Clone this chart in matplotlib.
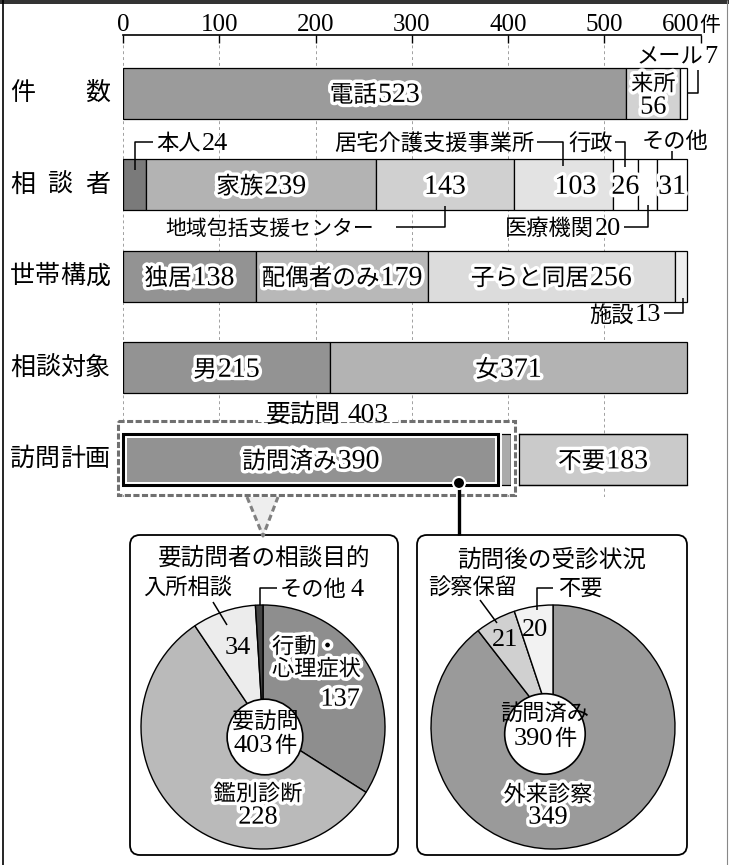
import matplotlib
matplotlib.use("Agg")
import matplotlib.pyplot as plt
import matplotlib.patheffects as pe
from matplotlib.patches import Rectangle, FancyBboxPatch, Circle, Polygon
import numpy as np

plt.rcParams['font.family'] = ['Noto Sans CJK JP', 'DejaVu Sans']
JP = ['Noto Sans CJK JP', 'DejaVu Sans']
SERIF = ['Liberation Serif', 'DejaVu Serif']

# ---- data ----
rows = ["件数", "相談者", "世帯構成", "相談対象", "訪問計画"]
ticks = [0, 100, 200, 300, 400, 500, 600]

ken_names = ["電話", "来所", "メール"]
ken_vals = [523, 56, 7]

sodan_names = ["本人", "家族", "地域包括支援センター", "居宅介護支援事業所", "行政", "医療機関", "その他"]
sodan_vals = [24, 239, 143, 103, 26, 20, 31]

setai_names = ["独居", "配偶者のみ", "子らと同居", "施設"]
setai_vals = [138, 179, 256, 13]

taisho_names = ["男", "女"]
taisho_vals = [215, 371]

homon_names = ["訪問済み", "", "不要"]
homon_vals = [390, 13, 183]
yohomon_total = 403

mokuteki_names = ["行動・心理症状", "鑑別診断", "入所相談", "その他"]
mokuteki_vals = [137, 228, 34, 4]

jushin_names = ["外来診察", "診察保留", "不要"]
jushin_vals = [349, 21, 20]

# ---- colours ----
ken_cols = ['#9b9b9b', '#d2d2d2', '#ffffff']
sodan_cols = ['#7a7a7a', '#b3b3b3', '#d0d0d0', '#e3e3e3', '#ffffff', '#ffffff', '#ffffff']
setai_cols = ['#939393', '#b8b8b8', '#dcdcdc', '#eeeeee']
taisho_cols = ['#939393', '#b3b3b3']
homon_cols = ['#929292', '#ababab', '#cacaca']
mokuteki_cols = ['#8e8e8e', '#bababa', '#ececec', '#444444']
jushin_cols = ['#9a9a9a', '#d0d0d0', '#f2f2f2']

halo = [pe.withStroke(linewidth=5, foreground='white')]

# ---- layout (pixels) ----
W, H = 729, 865
X0, X1 = 123, 700.5
K = (X1 - X0) / 600
YT, YB = 35, 497
Y0, DY = 93, 91.6
BH = 51


def xp(v):
    return X0 + v * K


def yp(i):
    return Y0 + i * DY


fig = plt.figure(figsize=(W / 100, H / 100), dpi=100)

ax = fig.add_axes([X0 / W, 1 - YB / H, (X1 - X0) / W, (YB - YT) / H])
ax.set_xlim(0, 600)
ax.set_ylim((YB - Y0) / DY, (YT - Y0) / DY)
ax.set_xticks(ticks)
ax.set_yticks([])
for s in ['left', 'right', 'bottom']:
    ax.spines[s].set_visible(False)
ax.spines['top'].set_linewidth(1.2)
ax.tick_params(axis='x', top=True, bottom=False, direction='in', length=6,
               width=1, labeltop=False, labelbottom=False)
ax.grid(axis='x', color='#a0a0a0', lw=0.7, ls=(0, (3, 3)))
ax.set_axisbelow(True)
ax.patch.set_alpha(0)

dx = lambda p: (p - X0) / K
dy = lambda p: (p - Y0) / DY

series = [(ken_vals, ken_cols), (sodan_vals, sodan_cols), (setai_vals, setai_cols),
          (taisho_vals, taisho_cols), (homon_vals, homon_cols)]
lefts_all = []
for i, (vals, cols) in enumerate(series):
    lefts = np.concatenate([[0], np.cumsum(vals)[:-1]])
    lefts_all.append(lefts)
    bars = ax.barh(i, vals, left=lefts, height=BH / DY, color=cols,
                   edgecolor='black', linewidth=0.9, zorder=2)
    if i == 4:
        # 訪問済み gets a heavy frame with a white inner gap
        bars[0].set_edgecolor('white')
        bars[0].set_linewidth(5)
        bars[0].set_zorder(2.5)
        ax.add_patch(Rectangle((0, i - BH / DY / 2), vals[0], BH / DY, fc='none',
                               ec='black', lw=2.2, zorder=3, clip_on=False))
        # small white gap before the 不要 block, as drawn in the original
        x_gap = lefts[2]
        ax.add_patch(Rectangle((x_gap, i - BH / DY / 2 - 0.02), dx(519) - x_gap, BH / DY + 0.04,
                               fc='white', ec='none', zorder=2.2))
        ax.plot([dx(519), dx(519)], [i - BH / DY / 2, i + BH / DY / 2], color='black',
                lw=0.9, zorder=2.3)
        ax.plot([dx(519), x_gap + vals[2]], [i - BH / DY / 2] * 2, color='black', lw=0.9, zorder=2.3)
        ax.plot([dx(519), x_gap + vals[2]], [i + BH / DY / 2] * 2, color='black', lw=0.9, zorder=2.3)


def centre(i, k):
    return lefts_all[i][k] + series[i][0][k] / 2


# white face behind the 要訪問 box
ax.add_patch(Rectangle((dx(118), dy(421)), dx(515) - dx(118), dy(495) - dy(421),
                       fc='white', ec='none', zorder=1.5, clip_on=False))


# pies
def pie_axes(cx, cy, r):
    return fig.add_axes([(cx - r) / W, 1 - (cy + r) / H, 2 * r / W, 2 * r / H])


pa = pie_axes(263, 727, 122)
wedges, _ = pa.pie(mokuteki_vals, colors=mokuteki_cols, startangle=90, counterclock=False,
                   wedgeprops=dict(edgecolor='black', linewidth=1.0))
for w in wedges:
    w.set_clip_on(False)
pa.set_xlim(-1, 1)
pa.set_ylim(-1, 1)
pa.add_patch(Circle((0.016, -0.082), 0.31, fc='white', ec='black', lw=1.2, zorder=5))

pb = pie_axes(553, 727, 122)
wedges, _ = pb.pie(jushin_vals, colors=jushin_cols, startangle=90, counterclock=False,
                   wedgeprops=dict(edgecolor='black', linewidth=1.0))
for w in wedges:
    w.set_clip_on(False)
pb.set_xlim(-1, 1)
pb.set_ylim(-1, 1)
pb.add_patch(Circle((-0.066, -0.057), 0.33, fc='white', ec='black', lw=1.2, zorder=5))

# overlay in pixel coordinates
ov = fig.add_axes([0, 0, 1, 1])
ov.set_xlim(0, W)
ov.set_ylim(H, 0)
ov.axis('off')
renderer = fig.canvas.get_renderer()


def line(xs, ys, **kw):
    kw.setdefault('color', 'black')
    kw.setdefault('lw', 1.1)
    ov.plot(xs, ys, solid_capstyle='butt', **kw)


def lab(x, y, name="", num="", unit="", fs=16, ha='center', glow=False, gap=1.0, nscale=1.18):
    """gothic name, larger serif number, gothic unit - laid out side by side around y"""
    kw = dict(path_effects=halo) if glow else {}
    nfs = fs * nscale
    base = y + 0.38 * fs * 100 / 72 if (name or unit) else y + 0.33 * nfs * 100 / 72
    parts = []
    if name:
        parts.append(ov.text(0, base, name, fontsize=fs, family=JP, va='baseline', zorder=6, **kw))
    if num != "":
        parts.append(ov.text(0, base, str(num), fontsize=nfs, family=SERIF, va='baseline', zorder=6, **kw))
    if unit:
        parts.append(ov.text(0, base, unit, fontsize=fs, family=JP, va='baseline', zorder=6, **kw))
    widths = [p.get_window_extent(renderer).width for p in parts]
    total = sum(widths) + gap * (len(parts) - 1)
    start = {'center': x - total / 2, 'right': x - total, 'left': x}[ha]
    for p, w in zip(parts, widths):
        p.set_x(start)
        start += w + gap


def jt(x, y, s, fs=16, ha='center', **kw):
    ov.text(x, y, s, ha=ha, va='center', fontsize=fs, family=JP, **kw)


# frame
ov.add_patch(Rectangle((0, 0), W, 4, fc='#333333', ec='none'))
line([3, 3], [0, H], lw=1.2)
line([727, 727], [0, H], lw=0.8, color='#888888')

# tick labels
for v in ticks[:-1]:
    ov.text(xp(v), 31, str(v), ha='center', va='baseline', fontsize=18, family=SERIF)
ov.text(xp(600) - 1, 31, str(ticks[-1]), ha='right', va='baseline', fontsize=18, family=SERIF)
ov.text(xp(600) - 1, 31, "件", ha='left', va='baseline', fontsize=15, family=JP)

# row labels, justified over a fixed width
for i, name in enumerate(rows):
    for cx, ch in zip(np.linspace(22.5, 97.5, len(name)), name):
        ov.text(cx, yp(i), ch, ha='center', va='center', fontsize=18, family=JP)

# in-bar labels
lab(xp(centre(0, 0)), yp(0), ken_names[0], ken_vals[0], fs=17, glow=True)
lab(xp(centre(0, 1)), yp(0) - 11, ken_names[1], fs=16, glow=True)
lab(xp(centre(0, 1)), yp(0) + 12, "", ken_vals[1], fs=16, glow=True)
lab(xp(centre(1, 1)), yp(1), sodan_names[1], sodan_vals[1], fs=17, glow=True)
lab(xp(centre(1, 2)), yp(1), "", sodan_vals[2], fs=17, glow=True)
lab(xp(centre(1, 3)) + 12, yp(1), "", sodan_vals[3], fs=17, glow=True)
lab(xp(centre(1, 4)), yp(1), "", sodan_vals[4], fs=17, glow=True)
lab(xp(centre(1, 6)), yp(1), "", sodan_vals[6], fs=17, glow=True)
for k in range(3):
    lab(xp(centre(2, k)), yp(2), setai_names[k], setai_vals[k], fs=17, glow=True)
for k in range(2):
    lab(xp(centre(3, k)), yp(3), taisho_names[k], taisho_vals[k], fs=17, glow=True)
lab(xp(centre(4, 0)), yp(4), homon_names[0], homon_vals[0], fs=17, glow=True)
lab((519 + xp(lefts_all[4][2] + homon_vals[2])) / 2, yp(4), homon_names[2], homon_vals[2], fs=17, glow=True)

# 件数 leader
lab(677, 55, ken_names[2], ken_vals[2])
line([698, 698, 688], [70, 93, 93])

# 相談者 leaders
c = xp(centre(1, 0))
line([c, c, 153], [170, 142, 142])
lab(156, 142, sodan_names[0], sodan_vals[0], ha='left')
c = xp(centre(1, 3))
line([537, c, c], [142, 142, 166])
lab(535, 142, sodan_names[3], ha='right')
c = xp(centre(1, 4))
line([615, c, c], [142, 142, 167])
lab(613, 142, sodan_names[4], ha='right')
c = xp(centre(1, 6))
line([c, c], [151, 159])
lab(675, 140, sodan_names[6])
c = xp(centre(1, 5))
line([624, c, c], [227, 227, 205])
lab(621, 227, sodan_names[5], sodan_vals[5], ha='right')
c = xp(centre(1, 2))
line([396, c, c], [227, 227, 206])
lab(374, 227, sodan_names[2], fs=15, ha='right')

# 世帯構成 leader
c = xp(centre(2, 3)) + 2
line([664, c, c], [313, 313, 298])
lab(661, 313, setai_names[3], setai_vals[3], ha='right')

# 要訪問 box
ov.add_patch(Rectangle((118, 421), 515 - 118, 495 - 421, fc='none', ec='#707070',
                       lw=2.2, ls=(0, (2, 0.8))))
ov.add_patch(Rectangle((258, 402), 140, 20, fc='white', ec='none', zorder=5))
lab(xp(yohomon_total / 2) + 10, 412, "要訪問", yohomon_total, fs=18, gap=7, nscale=1.1)

# funnel to left panel
ov.add_patch(Polygon([[247, 497], [278, 497], [263, 536]], closed=True, fc='#eeeeee', ec='none'))
line([247, 263, 278], [497, 536, 497], color='#808080', lw=2.2, ls=(0, (2, 1.2)))

# connector to right panel
line([459, 459], [483, 535], lw=2.4)
ov.add_patch(Circle((459, 483), 6, fc='black', ec='white', lw=1.5, zorder=5))

# panels
for bx, bw in [(130, 268), (417, 270)]:
    ov.add_patch(FancyBboxPatch((bx, 535), bw, 320, boxstyle='round,pad=0,rounding_size=10',
                                fc='none', ec='black', lw=1.3))

# left pie texts
jt(264, 558, "要訪問者の相談目的", fs=17)
jt(188, 588, mokuteki_names[2])
line([213, 227], [602, 625])
lab(280, 588, mokuteki_names[3], mokuteki_vals[3], ha='left', gap=4)
line([260, 260, 277], [605, 588, 588])
lab(238, 645, "", mokuteki_vals[2])
jt(272, 658, "行動・\n心理症状", ha='left', linespacing=0.95, path_effects=halo)
lab(360, 697, "", mokuteki_vals[0], ha='right', glow=True)
lab(258, 792, mokuteki_names[1], glow=True)
lab(258, 815, "", mokuteki_vals[1], glow=True)
jt(265, 721, "要訪問")
lab(265, 744, "", yohomon_total, "件")

# right pie texts
jt(552, 560, "訪問後の受診状況", fs=17)
jt(473, 588, jushin_names[1])
line([480, 497], [600, 623])
jt(558, 588, jushin_names[2], ha='left')
line([537, 537, 553], [610, 588, 588])
lab(505, 637, "", jushin_vals[1])
lab(535, 627, "", jushin_vals[2])
jt(545, 713, homon_names[0])
lab(545, 737, "", homon_vals[0], "件")
lab(548, 793, jushin_names[0], glow=True)
lab(548, 815, "", jushin_vals[0], glow=True)

fig.savefig("out.png", dpi=100)
